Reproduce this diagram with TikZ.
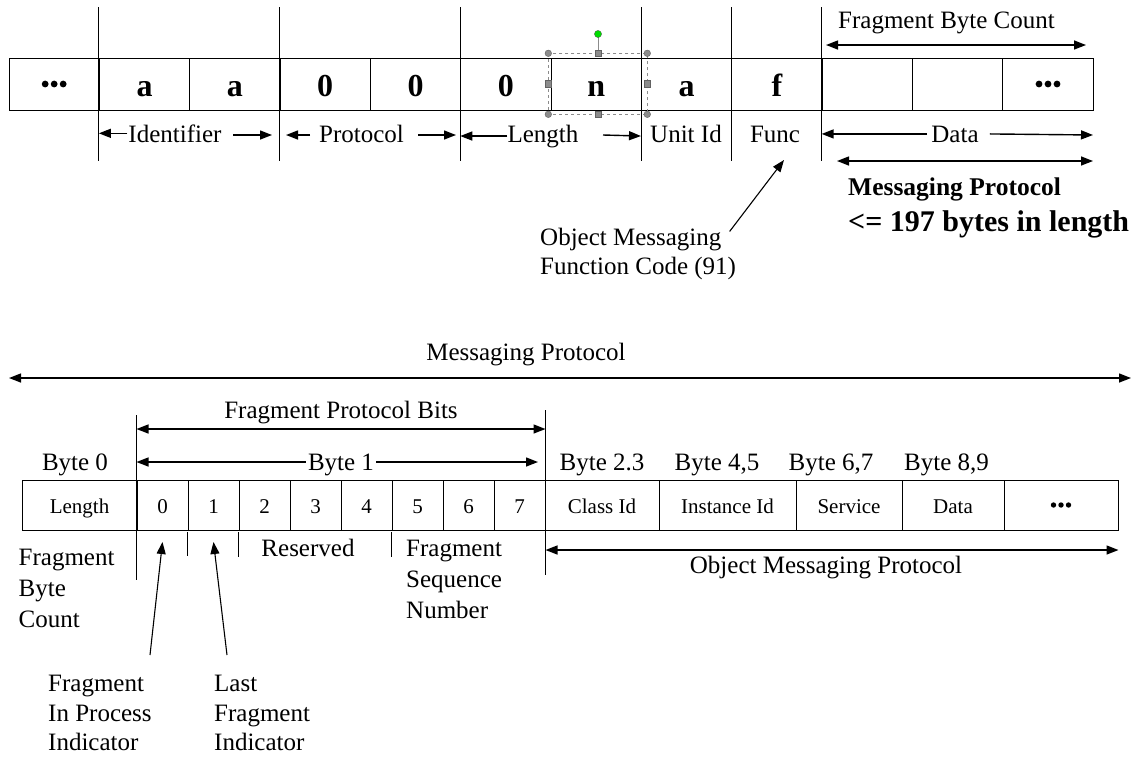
\documentclass[tikz,border=0pt]{standalone}
\usepackage{fontspec}
\setmainfont{Liberation Serif}
\usetikzlibrary{arrows.meta}
\definecolor{handlegrey}{RGB}{140,140,140}
\definecolor{handlegreen}{RGB}{0,220,0}
\begin{document}
\begin{tikzpicture}[x=1pt,y=-1pt,
  lab/.style={font=\fontsize{25}{30}\selectfont, inner sep=0pt, anchor=base},
  lableft/.style={lab, anchor=base west},
  small/.style={font=\fontsize{21}{24}\selectfont},
  boldsmall/.style={font=\bfseries\fontsize{25.5}{28}\selectfont, inner sep=0pt, anchor=base west},
  boldbig/.style={font=\bfseries\fontsize{30}{34}\selectfont, inner sep=0pt, anchor=base west},
  topcell/.style={draw, line width=1pt, minimum width=90.35pt, minimum height=52pt,
    inner sep=0pt, text height=24pt, text depth=0pt, font=\bfseries\fontsize{32}{36}\selectfont},
  botcell/.style={draw, line width=1pt, minimum height=50pt, inner sep=0pt,
    text height=16pt, text depth=0pt, small},
  tick/.style={line width=0.9pt},
  arr/.style={-{Triangle[length=12pt,width=9pt]}, line width=1.4pt},
  darr/.style={{Triangle[length=12pt,width=9pt]}-{Triangle[length=12pt,width=9pt]}, line width=1.4pt},
  handle/.style={draw=handlegrey!70!black, fill=handlegrey, line width=0.4pt},
]
\useasboundingbox (0,0) rectangle (1145,756);

% ---------------- upper frame ----------------
\foreach \t [count=\i] in {,a,a,0,0,0,n,a,f,,,}
  \node[topcell] (t\i) at ({9+90.35*(\i-0.5)},84) {\t};
\foreach \dx in {-9,0,9} {
  \fill ([xshift=\dx pt]t1.center) circle (3.4pt);
  \fill ([xshift=\dx pt]t12.center) circle (3.4pt);
}

% field separators
\foreach \i in {2,4,6,8,9,10}
  \draw[tick] (t\i.west |- 0,7) -- (t\i.west |- 0,161);

% field names
\node[lab] (lid) at (175,142) {Identifier};
\node[lab] (lpr) at (361.5,142) {Protocol};
\node[lab] (lle) at (543,142) {Length};
\node[lab] (lun) at (686,142) {Unit Id};
\node[lab] (lfu) at (775,142) {Func};
\node[lab] (lda) at (955,142) {Data};
\coordinate (idR) at (272,135);
\coordinate (prL) at (286,135);
\coordinate (prR) at (456,135);
\coordinate (daR) at (1093,135);
\draw[arr] ([xshift=-1pt]lid.west) -- (lid.west -| t2.west);
\draw[arr] (233,135) -- (idR);
\draw[arr] (310,135) -- (prL);
\draw[arr] (418,135) -- (prR);
\draw[arr] (lle.west) -- (lle.west -| t6.west);
\draw[arr] (603,135) -- (lle.west -| t8.west);
\draw[arr] ([xshift=-4pt]lda.west) -- (lda.west -| t10.west);
\draw[arr] ([xshift=11pt]lda.east) -- (daR);
\coordinate (mpL) at (837,161);
\coordinate (mpR) at (1093,161);
\draw[darr] (mpL) -- (mpR);

% fragment byte count
\node[lab] (fbc) at (946.5,28) {Fragment Byte Count};
\coordinate (fbcL) at (826,45);
\coordinate (fbcR) at (1086,45);
\draw[darr] (fbcL) -- (fbcR);

% messaging protocol size
\node[boldsmall] (mpb) at (848,195) {Messaging Protocol};
\node[boldbig] (mpl) at (848,231) {<= 197 bytes in length};

% function code note
\node[lableft] (om1) at (540,245) {Object Messaging};
\node[lableft] (om2) at (540,274) {Function Code (91)};
\coordinate (fcTip) at (784,160);
\draw[arr, line width=1.1pt] (om1.north east) ++(8,4) -- (fcTip);

% selection handles on the length byte
\draw[handlegrey, dashed, line width=0.6pt] (548.3,53.3) rectangle (647.3,114.3);
\draw[handlegrey, line width=0.8pt] (598,53.3) -- (598,34);
\fill[handlegreen, draw=handlegrey!60!black, line width=0.3pt] (598,34) circle (3.6pt);
\foreach \p in {(548.3,53.3),(647.3,53.3),(548.3,114.3),(647.3,114.3)}
  \path[handle] \p circle (3.3pt);
\foreach \p in {(598,53.3),(598,114.3),(548.3,83.8),(647.3,83.8)}
  \path[handle] \p ++(-3.2,-3.2) rectangle ++(6.4,6.4);

% ---------------- lower frame ----------------
\node[lab] (mpt) at (526,360) {Messaging Protocol};
\coordinate (allL) at (9,378);
\coordinate (allR) at (1131,378);
\draw[darr] (allL) -- (allR);

% byte 0 and byte 1 bit cells
\node[botcell, minimum width=115pt] (b0) at (79.5,505) {Length};
\foreach \i in {0,...,7}
  \node[botcell, minimum width=51pt] (bit\i) at ({137+51*\i+25.5},505) {\i};
\node[botcell, minimum width=114pt] (cls) at (602,505) {Class Id};
\node[botcell, minimum width=137pt] (ins) at (727.5,505) {Instance Id};
\node[botcell, minimum width=106pt] (srv) at (849,505) {Service};
\node[botcell, minimum width=102pt] (dat) at (953,505) {Data};
\node[botcell, minimum width=114pt] (more) at (1061,505) {};
\foreach \dx in {-7.5,0,7.5}
  \fill ([xshift=\dx pt]more.center) circle (2.7pt);

% separators around byte 1
\draw[tick] (bit0.west |- 0,415) -- (bit0.west |- 0,580);
\draw[tick] (bit7.east |- 0,410) -- (bit7.east |- 0,575);
\draw[tick] (bit1.west |- 0,532) -- (bit1.west |- 0,556);
\draw[tick] (bit2.west |- 0,532) -- (bit2.west |- 0,557);
\draw[tick] (bit5.west |- 0,532) -- (bit5.west |- 0,557);

% fragment protocol bits
\node[lab] (fpb) at (341,418) {Fragment Protocol Bits};
\draw[darr] (bit0.west |- 0,429) -- (bit7.east |- 0,429);

% byte labels
\node[lab] (by0) at (75,470) {Byte 0};
\draw[darr] (bit0.west |- 0,462) -- (538,462);
\node[lab, fill=white, inner xsep=2pt] (by1) at (341,470) {Byte 1};
\node[lab] (by2) at (602,470) {Byte 2.3};
\node[lab] (by4) at (717,470) {Byte 4,5};
\node[lab] (by6) at (831,470) {Byte 6,7};
\node[lab] (by8) at (946.5,470) {Byte 8,9};

% descriptions below the frame
\node[lableft] (fb1) at (18.5,565) {Fragment};
\node[lableft] (fb2) at (18.5,596) {Byte};
\node[lableft] (fb3) at (18.5,627) {Count};
\node[lab] (res) at (308,556) {Reserved};
\node[lableft] (fs1) at (406,556) {Fragment};
\node[lableft] (fs2) at (406,587) {Sequence};
\node[lableft] (fs3) at (406,618) {Number};
\node[lab] (omp) at (826,573) {Object Messaging Protocol};
\draw[darr] (bit7.east |- 0,550) -- (more.east |- 0,550);

\node[lableft] (fi1) at (48,691) {Fragment};
\node[lableft] (fi2) at (48,721) {In Process};
\node[lableft] (fi3) at (48,750) {Indicator};
\node[lableft] (lf1) at (214,691) {Last};
\node[lableft] (lf2) at (214,721) {Fragment};
\node[lableft] (lf3) at (214,750) {Indicator};
\coordinate (fipTail) at (150,655);
\coordinate (lfiTail) at (227,655);
\draw[arr, line width=1.1pt] (fipTail) -- (bit0.center |- 0,542);
\draw[arr, line width=1.1pt] (lfiTail) -- (bit1.center |- 0,542);
\end{tikzpicture}
\end{document}
